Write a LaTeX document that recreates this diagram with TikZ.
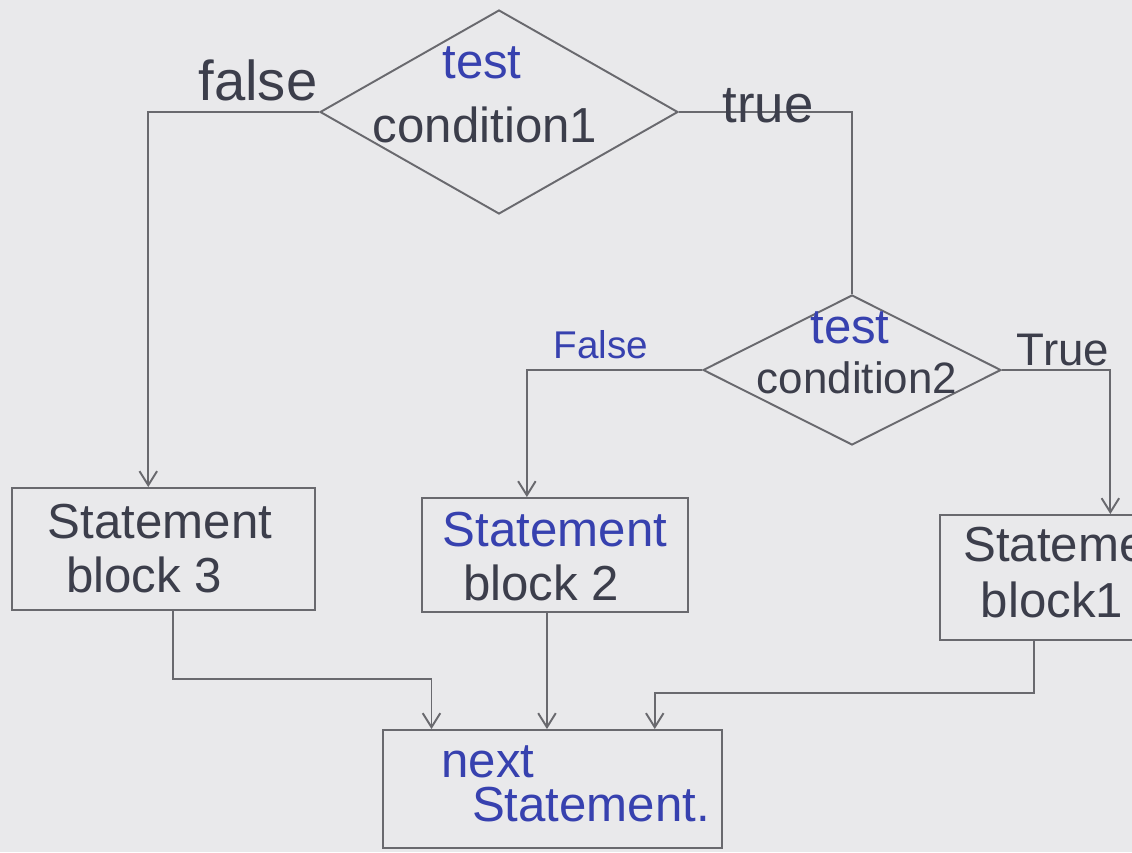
\documentclass[tikz,border=0pt]{standalone}
\usepackage{fontspec}
\setmainfont{Liberation Sans}
\usetikzlibrary{shapes.geometric,arrows.meta,calc}
\definecolor{paper}{RGB}{233,233,235}
\definecolor{ink}{RGB}{105,105,110}
\definecolor{pen}{RGB}{60,62,75}
\definecolor{bluepen}{RGB}{55,65,175}
\begin{document}
\begin{tikzpicture}[x=0.02cm,y=-0.02cm,
  line/.style={draw=ink,line width=1.1pt},
  arr/.style={line,-{Straight Barb[length=8pt,width=10pt]}},
  dec/.style={diamond,draw=ink,line width=1.1pt,inner sep=0pt},
  blk/.style={rectangle,draw=ink,line width=1.1pt,inner sep=0pt},
  lbl/.style={inner sep=0pt,font=\fontsize{28}{34}\selectfont,text=pen},
  blbl/.style={lbl,text=bluepen}]
\fill[paper] (0,0) rectangle (1132,852);
\useasboundingbox (0,0) rectangle (1132,852);
\clip (0,0) rectangle (1132,852);

% shapes
\node[dec,minimum width=7.16cm,minimum height=4.08cm] (d1) at (499,112) {};
\node[dec,minimum width=5.96cm,minimum height=3.0cm] (d2) at (852,370) {};
\node[blk,minimum width=6.06cm,minimum height=2.44cm] (b3) at (163.5,549) {};
\node[blk,minimum width=5.32cm,minimum height=2.28cm] (b2) at (555,555) {};
\node[blk,minimum width=5.4cm,minimum height=2.5cm] (b1) at (1075,577.5) {};
\node[blk,minimum width=6.78cm,minimum height=2.36cm] (nx) at (552.5,789) {};

% connectors
\coordinate (a3) at ($(b3.north west)!0.45!(b3.north east)$);
\draw[arr] (d1.west) -| (a3);
\draw[line] (d1.east) -| (d2.north);
\coordinate (a2) at ($(b2.north west)!0.395!(b2.north east)$);
\draw[arr] (d2.west) -| (a2);
\coordinate (a1) at ($(b1.north west)!0.63!(b1.north east)$);
\draw[arr] (d2.east) -| (a1);

\coordinate (s3) at ($(b3.south west)!0.53!(b3.south east)$);
\coordinate (n3) at ($(nx.north west)!0.145!(nx.north east)$);
\draw[arr] (s3) -- ++(0,68) -| (n3);
\coordinate (s2) at ($(b2.south west)!0.47!(b2.south east)$);
\draw[arr] (s2) -- (s2 |- nx.north);
\coordinate (s1) at ($(b1.south west)!0.35!(b1.south east)$);
\coordinate (n1) at ($(nx.north west)!0.80!(nx.north east)$);
\draw[arr] (s1) -- ++(0,52) -| (n1);

% texts
\node[blbl] (t1a) at (482,63) {test};
\node[lbl] (t1b) at (485,125) {condition1};
\node[lbl,font=\fontsize{32}{38}\selectfont] (lf1) at (258,80) {false};
\node[lbl,font=\fontsize{30}{36}\selectfont] (lt1) at (768,106) {true};
\node[blbl] (t2a) at (850,328) {test};
\node[lbl,font=\fontsize{25}{30}\selectfont] (t2b) at (857,378) {condition2};
\node[blbl,font=\fontsize{22}{26}\selectfont] (lf2) at (601,345) {False};
\node[lbl,font=\fontsize{26}{30}\selectfont] (lt2) at (1063,350) {True};
\node[lbl] (x3a) at (160,522) {Statement};
\node[lbl] (x3b) at (144,575) {block 3};
\node[blbl] (x2a) at (555,530) {Statement};
\node[lbl] (x2b) at (541,583) {block 2};
\node[lbl,anchor=west] (x1a) at (963,545) {Statement};
\node[lbl] (x1b) at (1052,600) {block1};
\node[blbl] (xna) at (488,762) {next};
\node[blbl] (xnb) at (591,805) {Statement.};
\end{tikzpicture}
\end{document}
